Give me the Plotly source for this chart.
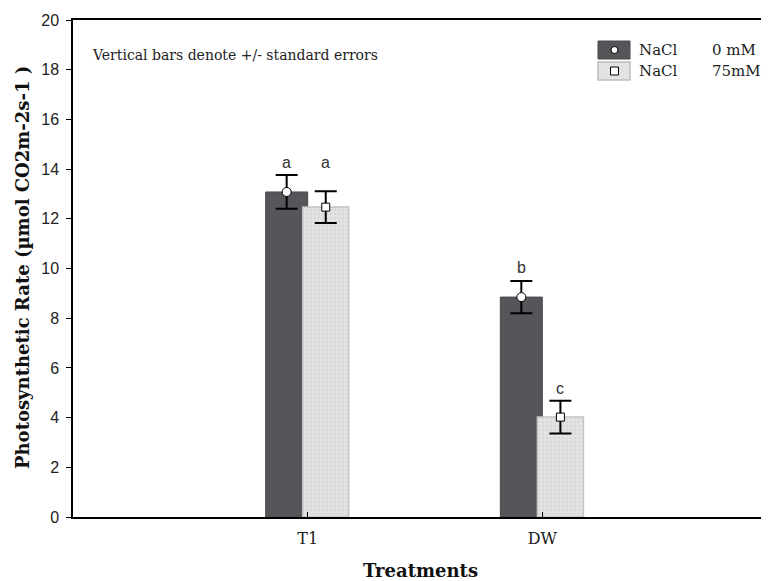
import plotly.graph_objects as go

# ---- data ----
treatments = ["T1", "DW"]
nacl_0_mean = [13.08, 8.85]
nacl_0_se = [0.68, 0.65]
nacl_75_mean = [12.47, 4.02]
nacl_75_se = [0.64, 0.66]
letters_0 = ["a", "b"]
letters_0_y = [14.25, 10.06]
letters_75 = ["a", "c"]
letters_75_y = [14.25, 5.19]
y_ticks = [0, 2, 4, 6, 8, 10, 12, 14, 16, 18, 20]

# ---- style ----
W, H = 769, 581
PAGE = 8  # browser body margin
ML, MR, MT = 73 - PAGE, 0, 20 - PAGE
MB = H - (517 - PAGE)
DARK = "#55555a"
LIGHT = "#e3e3e3"
SERIF = "DejaVu Serif, serif"
SANS = "Liberation Sans, Arial, sans-serif"

off0, w0 = -0.179, 0.179
off1, w1 = -0.021, 0.196

xi = list(range(len(treatments)))
x0c = [i + off0 + w0 / 2 for i in xi]
x1c = [i + off1 + w1 / 2 for i in xi]

fig = go.Figure()
fig.add_trace(go.Bar(x=xi, y=nacl_0_mean, offset=off0, width=w0,
                     marker=dict(color=DARK, line=dict(color="#4a4a4e", width=1)),
                     showlegend=False))
fig.add_trace(go.Bar(x=xi, y=nacl_75_mean, offset=off1, width=w1,
                     marker=dict(color=LIGHT, line=dict(color="#c4c4c4", width=1.5),
                                 pattern=dict(shape=".", fgcolor="#c9c9c9", bgcolor=LIGHT,
                                              size=4, solidity=0.3)),
                     showlegend=False))
fig.add_trace(go.Scatter(x=x0c, y=nacl_0_mean, mode="markers",
                         marker=dict(symbol="circle", size=9, color="white",
                                     line=dict(color="black", width=1)),
                         error_y=dict(type="data", array=nacl_0_se, color="black",
                                      thickness=2, width=11),
                         showlegend=False))
fig.add_trace(go.Scatter(x=x1c, y=nacl_75_mean, mode="markers",
                         marker=dict(symbol="square", size=8, color="white",
                                     line=dict(color="black", width=1)),
                         error_y=dict(type="data", array=nacl_75_se, color="black",
                                      thickness=2, width=11),
                         showlegend=False))

ann = []
for xs, ys, ls in [(x0c, letters_0_y, letters_0), (x1c, letters_75_y, letters_75)]:
    for x, y, l in zip(xs, ys, ls):
        ann.append(dict(x=x, y=y, text=l, showarrow=False, yanchor="middle",
                        font=dict(family=SANS, size=16, color="#333")))

pw = W - ML - MR
ph = H - MT - MB
def px(x):
    return (x - PAGE - ML) / pw
def py(y):
    return (H - MB - (y - PAGE)) / ph

TXT = dict(family=SERIF, size=14, color="#222")
LEG = dict(family=SERIF, size=15, color="#222")
ann.append(dict(xref="paper", yref="paper", x=px(90), y=py(55), xanchor="left",
                yanchor="middle", showarrow=False,
                text="Vertical bars denote +/- standard errors", font=TXT))
# legend text
for yy, conc in [(50, "0 mM"), (71, "75mM")]:
    ann.append(dict(xref="paper", yref="paper", x=px(637), y=py(yy), xanchor="left",
                    yanchor="middle", showarrow=False, text="NaCl", font=LEG))
    ann.append(dict(xref="paper", yref="paper", x=px(710), y=py(yy), xanchor="left",
                    yanchor="middle", showarrow=False, text=conc, font=LEG))
# axis titles
ann.append(dict(xref="paper", yref="paper", x=px(420), y=py(570), xanchor="center",
                yanchor="middle", showarrow=False, text="<b>Treatments</b>",
                font=dict(family=SERIF, size=18, color="#111")))
ann.append(dict(xref="paper", yref="paper", x=px(22), y=py(268), xanchor="center",
                yanchor="middle", showarrow=False, textangle=-90,
                text="<b>Photosynthetic Rate (µmol CO2m-2s-1 )</b>",
                font=dict(family=SERIF, size=18, color="#111")))

shapes = [
    dict(type="rect", xref="paper", yref="paper", x0=px(598), x1=px(630), y0=py(59), y1=py(41),
         fillcolor=DARK, line=dict(color="#4a4a4e", width=1)),
    dict(type="rect", xref="paper", yref="paper", x0=px(598), x1=px(630), y0=py(80), y1=py(62),
         fillcolor=LIGHT, line=dict(color="#bdbdbd", width=1.5)),
    dict(type="circle", xref="paper", yref="paper", x0=px(611), x1=px(618), y0=py(53.5), y1=py(46.5),
         fillcolor="white", line=dict(color="black", width=1)),
    dict(type="rect", xref="paper", yref="paper", x0=px(610.5), x1=px(618.5), y0=py(75), y1=py(67),
         fillcolor="white", line=dict(color="black", width=1)),
]

fig.update_layout(
    width=W, height=H, margin=dict(l=ML, r=MR, t=MT, b=MB),
    paper_bgcolor="white", plot_bgcolor="white",
    barmode="overlay", annotations=ann, shapes=shapes,
    xaxis=dict(range=[-1, 2], tickvals=xi, ticktext=treatments,
               showgrid=False, zeroline=False, showline=True, linecolor="black",
               linewidth=1.5, mirror=True, ticks="inside", ticklen=5, tickcolor="black",
               ticklabelstandoff=6,
               tickfont=dict(family=SERIF, size=16, color="#222")),
    yaxis=dict(range=[0, 20], tickvals=y_ticks, showgrid=False, zeroline=False,
               showline=True, linecolor="black", linewidth=1.5, ticks="outside",
               ticklen=5, tickcolor="black", ticklabelstandoff=4,
               tickfont=dict(family=SANS, size=16, color="#222")),
)

fig.write_html("out.html")
